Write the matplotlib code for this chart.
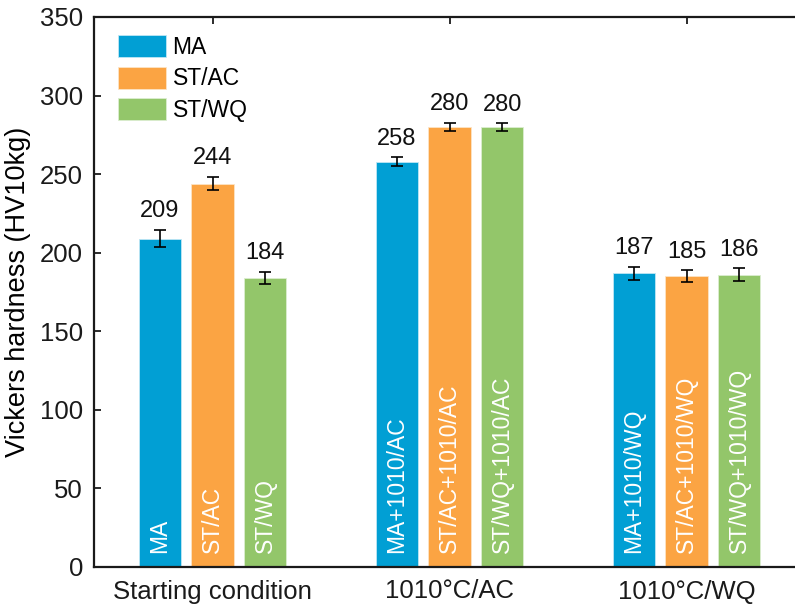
import numpy as np
import matplotlib
matplotlib.use("Agg")
import matplotlib.pyplot as plt

plt.rcParams['font.family'] = ['Liberation Sans', 'DejaVu Sans']

# Data
groups = ["Starting condition", "1010°C/AC", "1010°C/WQ"]
series = ["MA", "ST/AC", "ST/WQ"]
hardness_ma = [209, 258, 187]
hardness_stac = [244, 280, 185]
hardness_stwq = [184, 280, 186]
err_ma = [5.5, 2.8, 4.2]
err_stac = [4.2, 2.5, 3.8]
err_stwq = [4.0, 2.3, 4.0]
bar_labels_ma = ["MA", "MA+1010/AC", "MA+1010/WQ"]
bar_labels_stac = ["ST/AC", "ST/AC+1010/AC", "ST/AC+1010/WQ"]
bar_labels_stwq = ["ST/WQ", "ST/WQ+1010/AC", "ST/WQ+1010/WQ"]

colors = ["#019fd4", "#fba443", "#93c66a"]
edge_colors = ["#bfe6f4", "#fde3c5", "#dcedd0"]

values = [hardness_ma, hardness_stac, hardness_stwq]
errors = [err_ma, err_stac, err_stwq]
inner_labels = [bar_labels_ma, bar_labels_stac, bar_labels_stwq]

fig = plt.figure(figsize=(7.95, 6.07), dpi=100)
W, H = 795, 607
ax = fig.add_axes([94 / W, 40 / H, 711 / W, 550 / H])

x = np.arange(1, len(groups) + 1)
offset = 0.222
width = 0.179

for i, (name, vals, errs, labs) in enumerate(zip(series, values, errors, inner_labels)):
    xpos = x + (i - 1) * offset
    ax.bar(xpos, vals, width, color=colors[i], edgecolor=edge_colors[i],
           linewidth=0.6, label=name, zorder=2)
    ax.errorbar(xpos, vals, yerr=errs, fmt='none', ecolor='black',
                elinewidth=1.2, capsize=4.5, capthick=1.2, zorder=3)
    for xp, v, e, lab in zip(xpos, vals, errs, labs):
        ax.text(xp, v + e + 8, f"{v}", ha='center', va='baseline',
                fontsize=17, color='#111111', zorder=4)
        ax.text(xp, 9, lab, rotation=90, ha='center', va='bottom',
                fontsize=16.5, color='white', zorder=4)

ax.set_xlim(0.5, 3.5)
ax.set_ylim(0, 350)
ax.set_yticks(np.arange(0, 351, 50))
ax.set_xticks(x)
ax.set_xticklabels(groups)
ax.set_ylabel("Vickers hardness (HV10kg)", fontsize=19.5, labelpad=6)

for side in ['left', 'bottom', 'top']:
    ax.spines[side].set_linewidth(1.6)
    ax.spines[side].set_color('#1a1a1a')
ax.spines['right'].set_visible(False)

ax.tick_params(axis='both', direction='in', length=5, width=1.3,
               labelsize=18.5, colors='#1a1a1a', labelcolor='#1a1a1a')
ax.tick_params(axis='x', top=True, pad=9)
ax.tick_params(axis='y', pad=8)

leg = ax.legend(loc='upper left', bbox_to_anchor=(24 / 711, 1 - 18 / 550),
                frameon=False, fontsize=16.5, handlelength=2.1,
                handleheight=1.1, handletextpad=0.28, labelspacing=0.34,
                borderpad=0, borderaxespad=0)

fig.savefig("out.png", dpi=100)
